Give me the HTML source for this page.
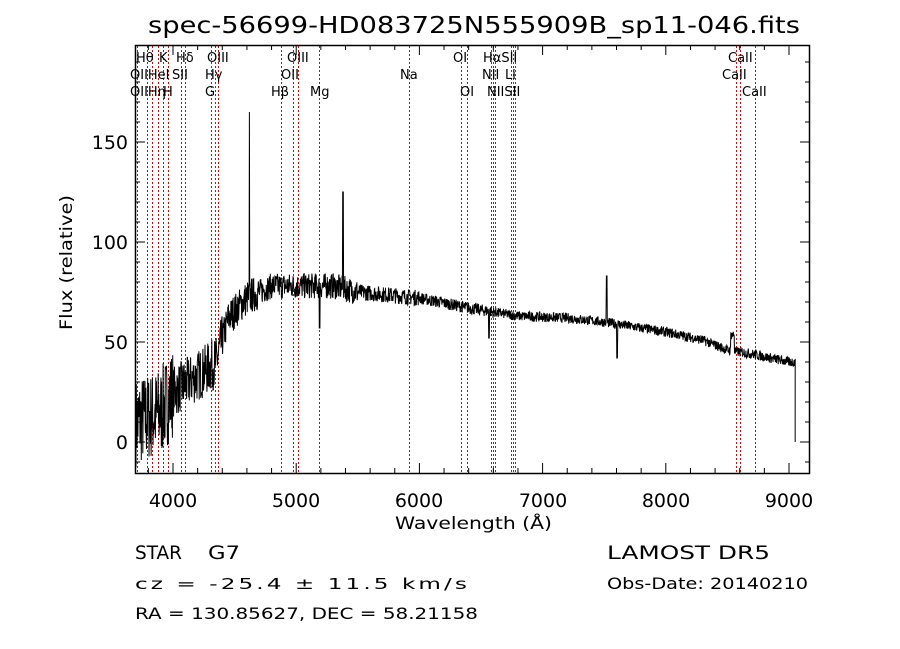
<!DOCTYPE html>
<html><head><meta charset="utf-8"><style>
body{margin:0;background:#fff}
svg{display:block;font-family:"DejaVu Sans","Liberation Sans",sans-serif}
</style></head><body>
<svg id="s" width="900" height="649" viewBox="0 0 900 649" xmlns="http://www.w3.org/2000/svg">
<rect width="900" height="649" fill="#fff"/>
<text x="148" y="33" font-size="23" textLength="652" lengthAdjust="spacingAndGlyphs">spec-56699-HD083725N555909B_sp11-046.fits</text>
<g id="red" stroke="#e00000" stroke-width="1.2" stroke-dasharray="2,2" shape-rendering="crispEdges"></g>
<path id="spec" fill="none" stroke="#000" stroke-width="1"/>
<g id="ticks" stroke="#000" stroke-width="1"></g>
<rect x="135.5" y="45.5" width="674" height="428" fill="none" stroke="#000" stroke-width="1.5"/>
<g font-size="13" fill="#000">
<text x="136" y="62">Hθ</text><text x="159" y="62">K</text><text x="176" y="62">Hδ</text><text x="207" y="62">OIII</text>
<text x="287" y="62">OIII</text><text x="453" y="62">OI</text><text x="483" y="62">HαSII</text>
<text x="728" y="62">CaII</text>
<text x="130" y="79">OIIHeI</text><text x="172" y="79">SII</text><text x="205" y="79">Hγ</text>
<text x="281" y="79">OII</text><text x="400" y="79">Na</text><text x="482" y="79">NII</text><text x="505" y="79">Li</text>
<text x="722" y="79">CaII</text>
<text x="130" y="96">OIIHη</text><text x="163" y="96">H</text><text x="205" y="96">G</text>
<text x="271" y="96">Hβ</text><text x="310" y="96">Mg</text><text x="460" y="96">OI</text><text x="487" y="96">NIISII</text>
<text x="742" y="96">CaII</text>
</g>
<g font-size="19" fill="#000" text-anchor="middle">
<text x="173" y="507">4000</text><text x="296" y="507">5000</text><text x="419" y="507">6000</text>
<text x="543" y="507">7000</text><text x="666" y="507">8000</text><text x="789" y="507">9000</text>
</g>
<text x="395" y="529" font-size="17" textLength="157" lengthAdjust="spacingAndGlyphs">Wavelength (Å)</text>
<g font-size="19" fill="#000" text-anchor="end">
<text x="128" y="449">0</text><text x="128" y="349">50</text><text x="128" y="249">100</text><text x="128" y="149">150</text>
</g>
<text transform="translate(72,330) rotate(-90)" font-size="17" textLength="135" lengthAdjust="spacingAndGlyphs">Flux (relative)</text>
<g font-size="19" fill="#000"><text x="135" y="559" textLength="47" lengthAdjust="spacingAndGlyphs">STAR</text><text x="208" y="559" textLength="32" lengthAdjust="spacingAndGlyphs">G7</text>
<text x="607" y="559" textLength="163" lengthAdjust="spacingAndGlyphs">LAMOST DR5</text></g>
<g font-size="16" fill="#000"><text x="135" y="589" font-size="15" style="letter-spacing:2px" textLength="335" lengthAdjust="spacingAndGlyphs">cz = -25.4 ± 11.5 km/s</text>
<text x="607" y="589" textLength="201" lengthAdjust="spacingAndGlyphs">Obs-Date: 20140210</text>
<text x="135" y="619" textLength="343" lengthAdjust="spacingAndGlyphs">RA = 130.85627, DEC =  58.21158</text></g>
</svg>
<script>
var X=function(l){return 173+(l-4000)*0.1232},Y=function(f){return 442-2*f};
var red=document.getElementById('red'),lines=[137,147,152,158,163,168,181,185,211,215,218,281,293,298,319,409,461,467,491,493,495,511,513,515,736,740,755];
var h='';lines.forEach(function(x){h+='<line x1="'+(x+.5)+'" y1="46" x2="'+(x+.5)+'" y2="473"/>'});red.innerHTML=h;
var t='';for(var l=3800;l<=9100;l+=200){var x=X(l),M=l%1000==0?10:5;t+='<line x1="'+x+'" y1="473" x2="'+x+'" y2="'+(473-M)+'"/><line x1="'+x+'" y1="45" x2="'+x+'" y2="'+(45+M)+'"/>';}
for(var f=-10;f<=190;f+=10){var y=Y(f);if(y<45||y>473)continue;var M=f%50==0?10:5;t+='<line x1="135" y1="'+y+'" x2="'+(135+M)+'" y2="'+y+'"/><line x1="810" y1="'+y+'" x2="'+(810-M)+'" y2="'+y+'"/>';}
document.getElementById('ticks').innerHTML=t;
var seed=7;function r(){seed=(seed*16807)%2147483647;return seed/2147483647-0.5;}
var K=[[3700,10],[3900,15],[4000,25],[4200,33],[4350,40],[4450,62],[4600,72],[4800,78],[5300,78],[5500,75],[6000,72],[6400,67],[6800,63],[7200,62],[7500,60],[7700,58],[8000,55],[8300,51],[8500,46],[8700,44],[9000,40],[9060,40]];
function base(l){for(var i=0;i<K.length-1;i++)if(l<=K[i+1][0]){var a=K[i],b=K[i+1];return a[1]+(b[1]-a[1])*(l-a[0])/(b[0]-a[0]);}return 40;}
function amp(l){return l<4000?45:l<4400?26:l<4700?18:l<5500?13:l<6000?8:l<6600?6:5;}
var d='';for(var l=3700;l<=9050;l+=2.5){var f=base(l)+amp(l)*r();
if(Math.abs(l-4620)<2)f=165;if(Math.abs(l-5380)<3)f=125;if(Math.abs(l-7520)<3)f=83;if(Math.abs(l-7605)<4)f=42;
if(Math.abs(l-8542)<15)f+=8;if(Math.abs(l-5190)<4)f=57;if(Math.abs(l-6565)<3)f=52;
var y=Math.max(46,Math.min(472,Y(f)));d+=(d?'L':'M')+X(l).toFixed(1)+' '+y.toFixed(1);}
d+='L'+X(9050)+' '+Y(0)+'L'+X(9050)+' '+Y(20);
document.getElementById('spec').setAttribute('d',d);
</script>
</body></html>
